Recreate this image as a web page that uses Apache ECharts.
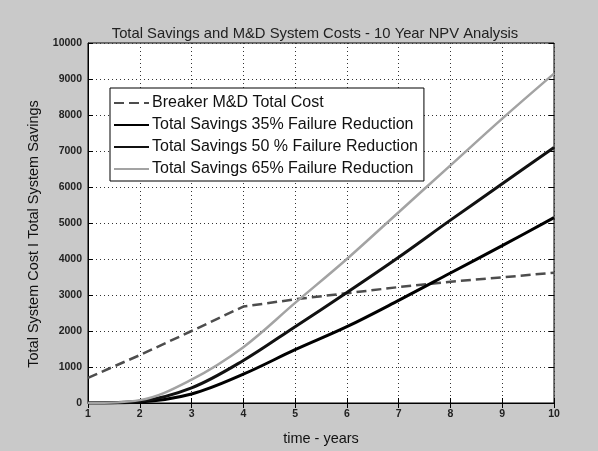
<!DOCTYPE html>
<html>
<head>
<meta charset="utf-8">
<script src="https://cdn.jsdelivr.net/npm/echarts@6/dist/echarts.min.js"></script>
<style>
  html, body { margin: 0; padding: 0; background: #c9c9c9; }
  #chart { width: 598px; height: 451px; }
</style>
</head>
<body>
<div id="chart"></div>
<script>
const years = [1, 2, 3, 4, 5, 6, 7, 8, 9, 10]
const costMD = [700, 1330, 2000, 2680, 2880, 3050, 3220, 3370, 3490, 3620]
const save35 = [0, 30, 250, 800, 1480, 2120, 2850, 3610, 4370, 5150]
const save50 = [0, 50, 420, 1180, 2120, 3070, 4050, 5080, 6090, 7100]
const save65 = [0, 80, 650, 1550, 2780, 4000, 5300, 6600, 7900, 9150]
const yTicks = [0, 10000, 1000]

const font = 'Liberation Sans, Arial, sans-serif'
const pairs = (vals) => years.map((x, i) => [x, vals[i]])

const myChart = echarts.init(document.getElementById('chart'))

// MATLAB-style box: ticks on top and right too
const tickAxis = {
  axisLine: { show: false },
  axisTick: { show: true, inside: true, length: 5, lineStyle: { color: '#000' } },
  axisLabel: { show: false },
  splitLine: { show: false }
}

const option = {
  backgroundColor: '#c9c9c9',
  animation: false,
  title: {
    text: 'Total Savings and M&D System Costs - 10 Year NPV Analysis',
    left: 310,
    textAlign: 'center',
    top: 21,
    textStyle: { fontFamily: font, fontSize: 14.8, fontWeight: 'normal', color: '#222' }
  },
  legend: {
    orient: 'vertical',
    left: 110,
    top: 88,
    itemWidth: 35,
    itemHeight: 12,
    itemGap: 6,
    padding: [7, 6, 4, 3],
    backgroundColor: '#fff',
    borderColor: '#000',
    borderWidth: 1,
    borderRadius: 0,
    itemStyle: { opacity: 0 },
    textStyle: { fontFamily: font, fontSize: 16, color: '#111', padding: [0, 0, 0, -2] }
  },
  grid: {
    left: 88, right: 44, top: 43, bottom: 43,
    show: true,
    backgroundColor: '#fff',
    borderColor: '#000',
    borderWidth: 1
  },
  xAxis: [
    {
      type: 'value',
      min: 1, max: 10, interval: 1,
      name: 'time - years',
      nameLocation: 'middle',
      nameGap: 28,
      nameTextStyle: { fontFamily: font, fontSize: 14.5, color: '#111' },
      axisLine: { show: true, lineStyle: { color: '#000', width: 1 } },
      axisTick: { show: true, inside: true, length: 5, lineStyle: { color: '#000' } },
      axisLabel: { fontFamily: font, fontSize: 10.5, fontWeight: 'bold', color: '#222', margin: 6 },
      splitLine: { show: true, lineStyle: { color: '#333', type: [1, 3], width: 1 } }
    },
    Object.assign({ type: 'value', position: 'top', min: 1, max: 10, interval: 1 }, tickAxis)
  ],
  yAxis: [
    {
      type: 'value',
      min: yTicks[0], max: yTicks[1], interval: yTicks[2],
      name: 'Total System Cost I Total System Savings',
      nameLocation: 'middle',
      nameGap: 37,
      nameTextStyle: { fontFamily: font, fontSize: 14.5, color: '#111', padding: [0, 22, 0, 0] },
      axisLine: { show: true, lineStyle: { color: '#000', width: 1 } },
      axisTick: { show: true, inside: true, length: 5, lineStyle: { color: '#000' } },
      axisLabel: {
        fontFamily: font, fontSize: 10.5, fontWeight: 'bold', color: '#222', margin: 6,
        formatter: (v) => String(v)
      },
      splitLine: { show: true, lineStyle: { color: '#333', type: [1, 3], width: 1 } }
    },
    Object.assign({ type: 'value', position: 'right', min: yTicks[0], max: yTicks[1], interval: yTicks[2] }, tickAxis)
  ],
  series: [
    {
      name: 'Breaker M&D Total Cost',
      type: 'line',
      symbol: 'none',
      data: pairs(costMD),
      lineStyle: { color: '#4d4d4d', width: 2.5, type: [10, 5] },
      itemStyle: { color: '#4d4d4d' }
    },
    {
      name: 'Total Savings 35% Failure Reduction',
      type: 'line',
      symbol: 'none',
      smooth: 0.35,
      data: pairs(save35),
      lineStyle: { color: '#000', width: 3 },
      itemStyle: { color: '#000' }
    },
    {
      name: 'Total Savings 50 % Failure Reduction',
      type: 'line',
      symbol: 'none',
      smooth: 0.35,
      data: pairs(save50),
      lineStyle: { color: '#111', width: 3 },
      itemStyle: { color: '#111' }
    },
    {
      name: 'Total Savings 65% Failure Reduction',
      type: 'line',
      symbol: 'none',
      smooth: 0.35,
      data: pairs(save65),
      lineStyle: { color: '#a3a3a3', width: 2.5 },
      itemStyle: { color: '#a3a3a3' }
    }
  ]
}

myChart.setOption(option)
</script>
</body>
</html>
